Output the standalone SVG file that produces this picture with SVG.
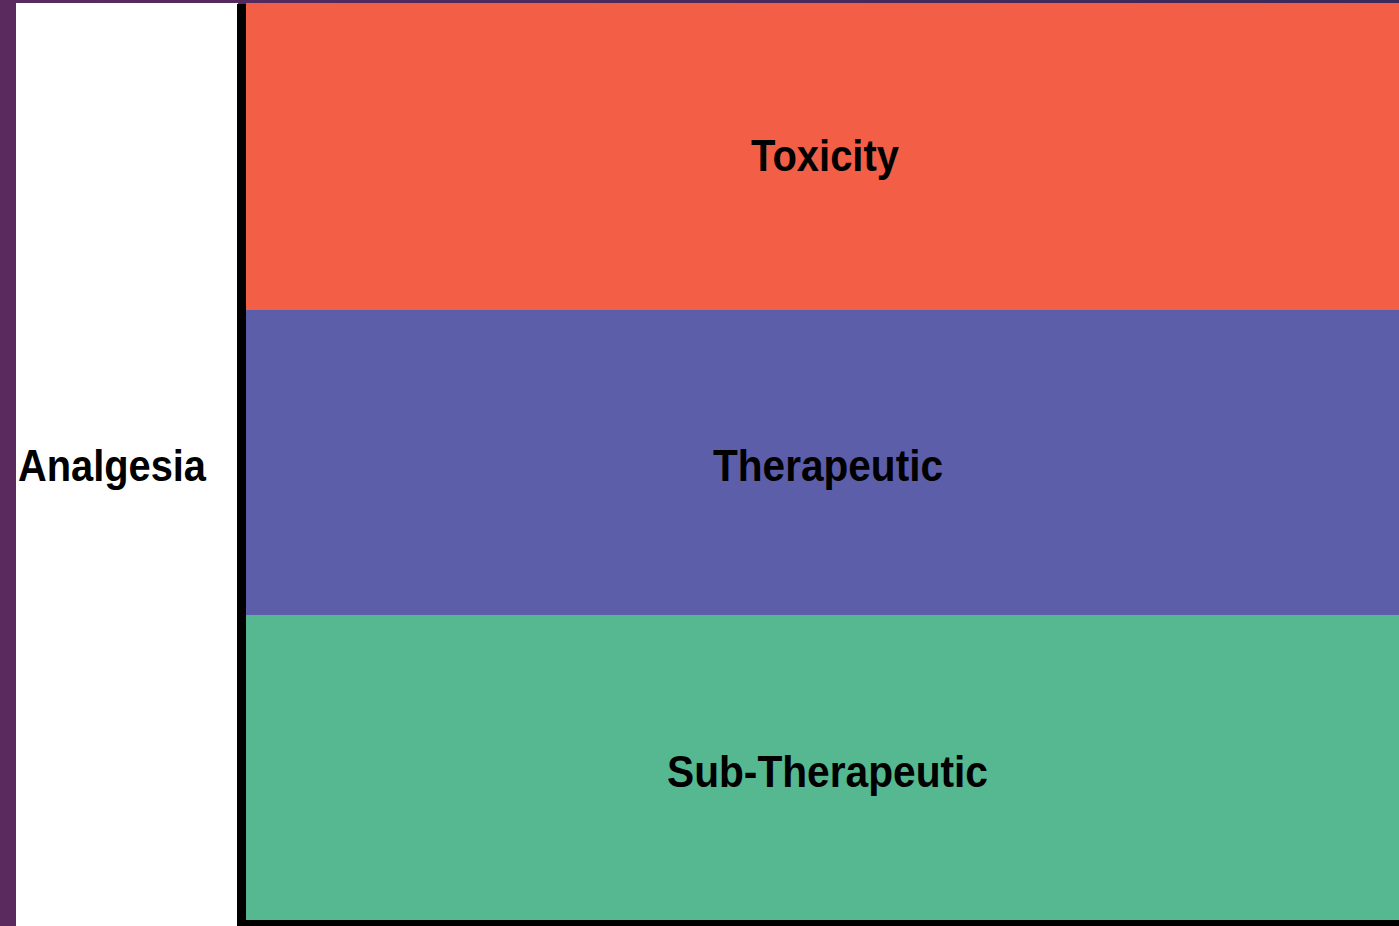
<svg xmlns="http://www.w3.org/2000/svg" width="1399" height="926" viewBox="0 0 1399 926">
  <defs>
    <linearGradient id="bg" x1="0" y1="0" x2="1" y2="0">
      <stop offset="0" stop-color="#5a2a5e"/>
      <stop offset="1" stop-color="#3b2959"/>
    </linearGradient>
    <style>
      .lbl { font-family: "Liberation Sans", Arial, sans-serif; font-weight: bold; font-size: 45px; fill: #000; }
    </style>
  </defs>
  <rect x="0" y="0" width="1399" height="926" fill="url(#bg)"/>
  <g id="axis-panel">
    <rect x="16" y="3" width="222" height="923" fill="#ffffff"/>
    <text class="lbl" x="18" y="481" textLength="188" lengthAdjust="spacingAndGlyphs">Analgesia</text>
  </g>
  <g id="toxicity">
    <rect x="246" y="3" width="1153" height="307" fill="#f35f46"/>
    <text class="lbl" x="751" y="171" textLength="148" lengthAdjust="spacingAndGlyphs">Toxicity</text>
  </g>
  <g id="therapeutic">
    <rect x="246" y="310" width="1153" height="305" fill="#5c5eaa"/>
    <text class="lbl" x="713" y="481" textLength="230" lengthAdjust="spacingAndGlyphs">Therapeutic</text>
  </g>
  <g id="sub-therapeutic">
    <rect x="246" y="615" width="1153" height="305" fill="#56b890"/>
    <text class="lbl" x="667" y="787" textLength="321" lengthAdjust="spacingAndGlyphs">Sub-Therapeutic</text>
  </g>
  <g id="connectors">
    <rect x="237" y="4" width="9" height="922" fill="#000"/>
    <rect x="237" y="920" width="1162" height="6" fill="#000"/>
  </g>
</svg>
